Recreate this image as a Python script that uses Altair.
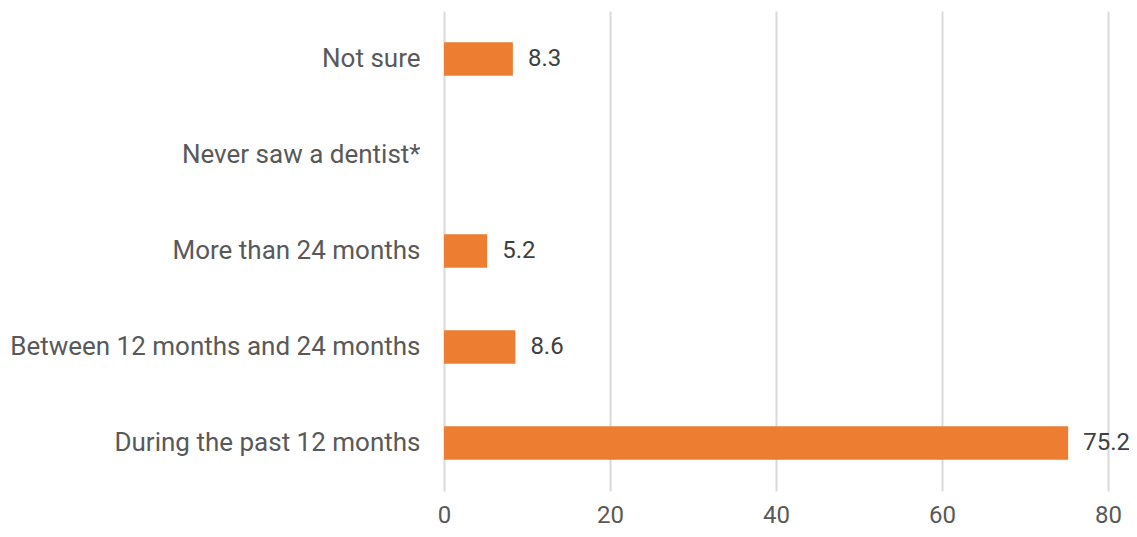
import altair as alt
import pandas as pd

categories = ["Not sure", "Never saw a dentist*", "More than 24 months",
              "Between 12 months and 24 months", "During the past 12 months"]
values = [8.3, None, 5.2, 8.6, 75.2]
labels = ["8.3", "", "5.2", "8.6", "75.2"]

df = pd.DataFrame({"category": categories, "value": values, "label": labels})

FONT = "Roboto"

y_enc = alt.Y("category:N", sort=categories, title=None,
              scale=alt.Scale(paddingInner=0.65, paddingOuter=0.325),
              axis=alt.Axis(domain=False, ticks=False, labelPadding=24,
                            labelFontSize=26, labelColor="#595959", labelFont=FONT,
                            labelLimit=600))
x_enc = alt.X("value:Q", title=None,
              scale=alt.Scale(domain=[0, 80], nice=False),
              axis=alt.Axis(values=[0, 20, 40, 60, 80], domain=False, ticks=False,
                            grid=True, gridColor="#D9D9D9", gridWidth=2,
                            labelFontSize=24, labelColor="#595959", labelFont=FONT,
                            labelPadding=12, labelFlush=False))

bars = alt.Chart(df).mark_bar(color="#ED7D31").encode(x=x_enc, y=y_enc)
text = alt.Chart(df).mark_text(align="left", dx=15, fontSize=24, font=FONT,
                               color="#404040").encode(
    x=alt.X("value:Q"), y=alt.Y("category:N", sort=categories), text="label:N")

chart = (bars + text).properties(
    width=664, height=480,
    autosize=alt.AutoSizeParams(type="none"),
    padding={"left": 436, "top": 3, "right": 21, "bottom": 38},
).configure_view(stroke=None)

chart.save("out.html", embed_options={"renderer": "svg", "actions": False})
